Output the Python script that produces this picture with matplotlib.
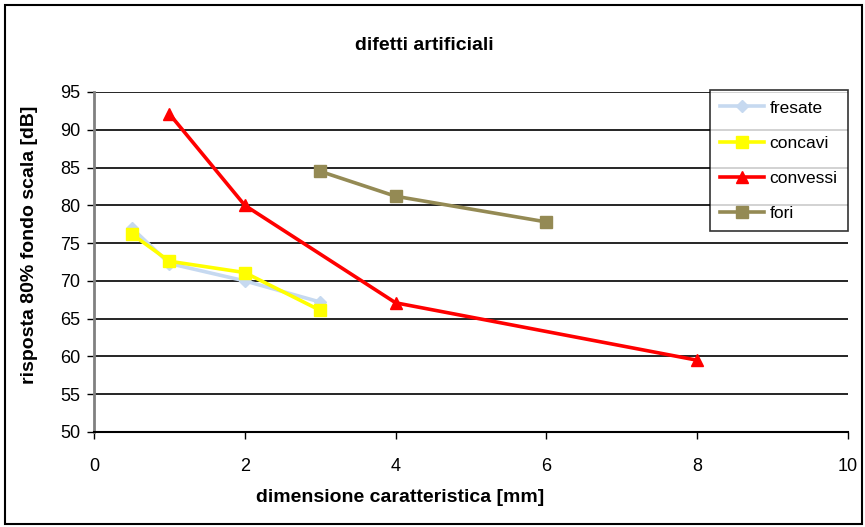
import matplotlib
matplotlib.use("Agg")
import matplotlib.pyplot as plt
from matplotlib.patches import Rectangle

plt.rcParams['font.family'] = ['Liberation Sans', 'DejaVu Sans']

# data
fresate_x = [0.5, 1, 2, 3]
fresate_y = [77.0, 72.3, 70.0, 67.2]
concavi_x = [0.5, 1, 2, 3]
concavi_y = [76.2, 72.6, 71.1, 66.1]
convessi_x = [1, 2, 4, 8]
convessi_y = [92.1, 80.0, 67.1, 59.5]
fori_x = [3, 4, 6]
fori_y = [84.5, 81.2, 77.8]

W, H = 865, 527
fig = plt.figure(figsize=(W/100, H/100), dpi=100)
ax = fig.add_axes([94/W, 1-432/H, (848-94)/W, (432-92)/H])

ax.plot(fresate_x, fresate_y, color='#c6d9f0', lw=2.6, marker='D', ms=6, label='fresate')
ax.plot(concavi_x, concavi_y, color='#ffff00', lw=2.6, marker='s', ms=9, label='concavi')
ax.plot(convessi_x, convessi_y, color='#ff0000', lw=2.6, marker='^', ms=9, label='convessi')
ax.plot(fori_x, fori_y, color='#948a54', lw=2.6, marker='s', ms=8, label='fori')

ax.set_xlim(0, 10)
ax.set_ylim(50, 95)
ax.set_xticks(range(0, 11, 2))
ax.set_yticks(range(50, 96, 5))
ax.yaxis.grid(True, color='black', lw=1.2)
ax.set_axisbelow(True)
for s in ['top', 'right']:
    ax.spines[s].set_visible(False)
ax.spines['left'].set_color('#808080')
ax.spines['left'].set_linewidth(2)
ax.spines['bottom'].set_color('black')
ax.spines['bottom'].set_linewidth(1.5)
ax.tick_params(axis='both', labelsize=13, length=5, width=1, direction='out')
ax.tick_params(axis='x', pad=14)
ax.tick_params(axis='y', pad=5)

leg = ax.legend(loc='upper right', bbox_to_anchor=(1.0, 1.006), fontsize=12.5, frameon=True,
                fancybox=False, edgecolor='black', borderpad=0.6, labelspacing=1.15,
                handlelength=2.5, handletextpad=0.35, borderaxespad=0)
leg.get_frame().set_linewidth(1.2)

fig.text(424/W, 1-45/H, 'difetti artificiali', ha='center', va='center', fontsize=14, fontweight='bold')
fig.text(400/W, 1-497/H, 'dimensione caratteristica [mm]', ha='center', va='center', fontsize=14, fontweight='bold')
fig.text(30/W, 1-245/H, 'risposta 80% fondo scala [dB]', ha='center', va='center', rotation=90,
         fontsize=14, fontweight='bold')

fig.patches.append(Rectangle((5/W, 3/H), (857/W), (1-8/H), transform=fig.transFigure,
                             fill=False, edgecolor='black', lw=1.5))

fig.savefig('out.png', dpi=100)
